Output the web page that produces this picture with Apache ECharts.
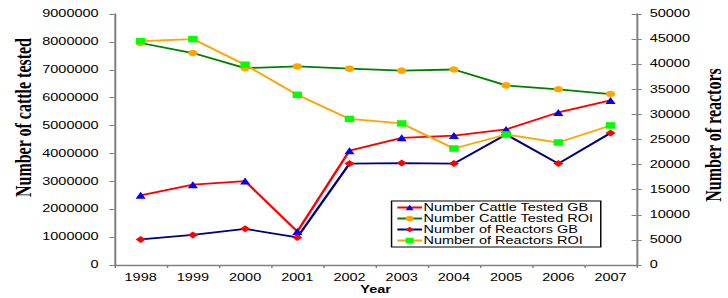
<!DOCTYPE html>
<html><head><meta charset="utf-8">
<script src="https://cdn.jsdelivr.net/npm/echarts@6/dist/echarts.min.js"></script>
<style>
html,body{margin:0;padding:0;background:#fff;overflow:hidden}
#wrap{width:728px;height:298px;overflow:hidden}
#c{width:502px;height:298px;transform:scaleX(1.4502);transform-origin:0 0}
</style>
</head><body><div id="wrap"><div id="c"></div></div>
<script>
const years = ['1998','1999','2000','2001','2002','2003','2004','2005','2006','2007'];
const cattleTestedGB = [2500000, 2880000, 3010000, 1200000, 4100000, 4560000, 4640000, 4860000, 5470000, 5900000];
const cattleTestedROI = [7960000, 7600000, 7060000, 7120000, 7040000, 6970000, 7010000, 6440000, 6300000, 6130000];
const reactorsGB = [5100, 6000, 7200, 5500, 20200, 20300, 20200, 26000, 20200, 26300];
const reactorsROI = [44600, 45000, 39900, 33900, 29100, 28200, 23200, 26000, 24400, 27800];

const chart = echarts.init(document.getElementById('c'), null, {renderer:'svg'});
const axisLine = {show:true, lineStyle:{color:'#808080', width:1.4}};
const lbl = {color:'#000', fontFamily:'Liberation Sans, Arial', fontSize:10};
const plain = v => String(v);
chart.setOption({
  animation:false,
  grid:{left:79, right:63, top:14, bottom:33, containLabel:false, outerBoundsMode:'none'},
  legend:{
    orient:'vertical', left:270, top:201, itemGap:0, itemWidth:17, itemHeight:7,
    borderColor:'#000', borderWidth:1, padding:[1,5,1,3], backgroundColor:'#fff',
    textStyle:{color:'#000', fontFamily:'Liberation Sans, Arial', fontSize:10, lineHeight:11, padding:[0,0,0,-4]}
  },
  xAxis:{
    type:'category', data:years,
    name:'Year', nameLocation:'middle', nameGap:20, nameMoveOverlap:false,
    nameTextStyle:{fontWeight:'bold', fontFamily:'Liberation Sans, Arial', fontSize:10, color:'#000'},
    axisLine:axisLine, axisTick:{show:true, length:3, lineStyle:{color:'#808080'}},
    axisLabel:Object.assign({margin:8}, lbl)
  },
  yAxis:[{
    type:'value', min:0, max:9000000, interval:1000000,
    name:'Number of cattle tested', nameLocation:'middle', nameGap:55, nameRotate:90, nameMoveOverlap:false,
    nameTextStyle:{fontWeight:'bold', fontFamily:'Liberation Serif, Times New Roman', fontSize:16, color:'#000', padding:[0,0,0,44]},
    axisLine:axisLine, axisTick:{show:true, length:3.5, lineStyle:{color:'#808080'}},
    splitLine:{show:false}, axisLabel:Object.assign({margin:11, formatter:plain}, lbl)
  },{
    type:'value', min:0, max:50000, interval:5000, position:'right',
    name:'Number of reactors', nameLocation:'middle', nameGap:44.5, nameRotate:90, nameMoveOverlap:false,
    nameTextStyle:{fontWeight:'bold', fontFamily:'Liberation Serif, Times New Roman', fontSize:16, color:'#000', padding:[0,0,0,9]},
    axisLine:axisLine, axisTick:{show:true, length:3.5, lineStyle:{color:'#808080'}},
    splitLine:{show:false}, axisLabel:Object.assign({margin:9, formatter:plain}, lbl)
  },{
    type:'value', min:0, max:50000, interval:5000, position:'right',
    axisLine:{show:false}, axisTick:{show:true, inside:true, length:3.5, lineStyle:{color:'#808080'}},
    splitLine:{show:false}, axisLabel:{show:false}
  }],
  series:[
    {name:'Number Cattle Tested GB', type:'line', yAxisIndex:0, data:cattleTestedGB,
     symbol:'triangle', symbolSize:7, lineStyle:{color:'#ff0000', width:1.8},
     itemStyle:{color:'#0000ff'}},
    {name:'Number Cattle Tested ROI', type:'line', yAxisIndex:0, data:cattleTestedROI,
     symbol:'circle', symbolSize:6.5, lineStyle:{color:'#008000', width:1.8},
     itemStyle:{color:'#ffa500'}},
    {name:'Number of Reactors GB', type:'line', yAxisIndex:1, data:reactorsGB,
     symbol:'diamond', symbolSize:7, lineStyle:{color:'#000080', width:1.8},
     itemStyle:{color:'#ff0000'}},
    {name:'Number of Reactors ROI', type:'line', yAxisIndex:1, data:reactorsROI,
     symbol:'rect', symbolSize:6.5, lineStyle:{color:'#ffa500', width:1.8},
     itemStyle:{color:'#00ff00'}}
  ]
});
</script></body></html>
